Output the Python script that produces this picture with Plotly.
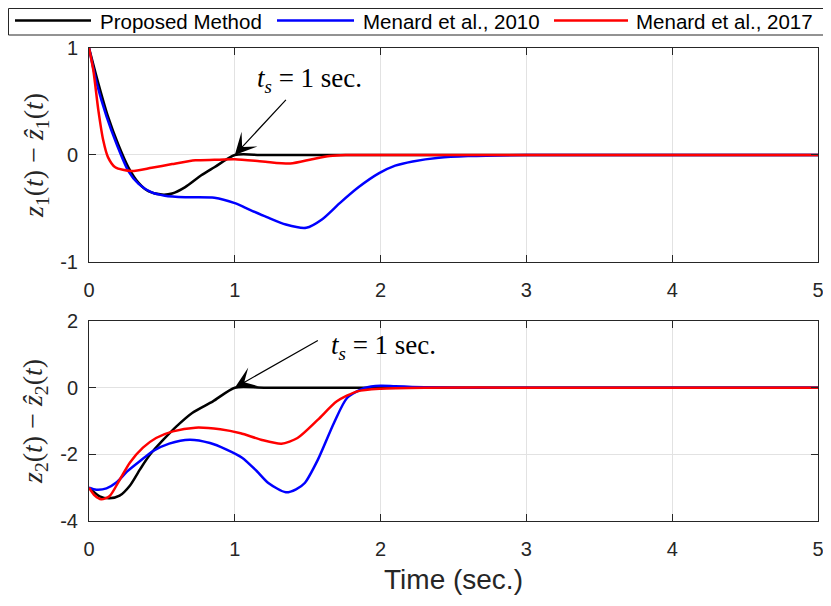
import plotly.graph_objects as go

# ---------------- data ----------------
series_names = ["Proposed Method", "Menard et al., 2010", "Menard et al., 2017"]
series_colors = ["#000000", "#0000ff", "#ff0000"]

# top panel: z1(t) - z1_hat(t)
t1_prop = [0, 0.064, 0.13, 0.2, 0.27, 0.34, 0.41, 0.5, 0.57, 0.66, 0.77, 0.86, 1.0, 1.2, 2.0, 3.0, 4.0, 5.0]
e1_prop = [1.0, 0.67, 0.36, 0.10, -0.115, -0.26, -0.34, -0.37, -0.36, -0.30, -0.19, -0.115, 0.0, 0.0, 0.0, 0.0, 0.0, 0.0]

t1_m10 = [0, 0.053, 0.12, 0.19, 0.27, 0.34, 0.43, 0.52, 0.66, 0.86, 1.0, 1.1, 1.22, 1.35, 1.49, 1.6, 1.72, 1.85, 1.99, 2.1, 2.22, 2.4, 2.6, 3.0, 4.0, 5.0]
e1_m10 = [1.0, 0.67, 0.36, 0.10, -0.15, -0.27, -0.35, -0.38, -0.395, -0.40, -0.45, -0.51, -0.58, -0.65, -0.68, -0.60, -0.45, -0.30, -0.17, -0.10, -0.06, -0.025, -0.01, 0.0, 0.0, 0.0]

t1_m17 = [0, 0.03, 0.064, 0.098, 0.13, 0.18, 0.29, 0.43, 0.57, 0.73, 0.86, 1.0, 1.19, 1.38, 1.53, 1.65, 1.76, 2.0, 3.0, 4.0, 5.0]
e1_m17 = [1.0, 0.79, 0.42, 0.135, -0.02, -0.115, -0.15, -0.12, -0.085, -0.05, -0.045, -0.04, -0.06, -0.08, -0.04, -0.01, 0.0, 0.0, 0.0, 0.0, 0.0]

# bottom panel: z2(t) - z2_hat(t)
t2_prop = [0, 0.073, 0.14, 0.21, 0.28, 0.35, 0.42, 0.51, 0.60, 0.71, 0.85, 1.0, 1.2, 2.0, 3.0, 4.0, 5.0]
e2_prop = [-3.0, -3.26, -3.32, -3.24, -2.94, -2.45, -2.0, -1.56, -1.16, -0.75, -0.41, 0.0, 0.0, 0.0, 0.0, 0.0, 0.0]

t2_m10 = [0, 0.05, 0.12, 0.19, 0.26, 0.35, 0.44, 0.55, 0.69, 0.83, 0.94, 1.05, 1.15, 1.23, 1.35, 1.42, 1.48, 1.57, 1.68, 1.77, 1.89, 2.0, 2.1, 2.3, 2.6, 3.0, 4.0, 5.0]
e2_m10 = [-3.0, -3.06, -3.02, -2.84, -2.52, -2.2, -1.9, -1.68, -1.56, -1.66, -1.85, -2.1, -2.5, -2.86, -3.14, -3.05, -2.86, -2.16, -1.06, -0.31, -0.01, 0.06, 0.04, 0.01, 0.0, 0.0, 0.0, 0.0]

t2_m17 = [0, 0.04, 0.084, 0.14, 0.21, 0.28, 0.37, 0.46, 0.575, 0.73, 0.9, 1.04, 1.18, 1.32, 1.43, 1.57, 1.70, 1.84, 2.0, 2.3, 3.0, 4.0, 5.0]
e2_m17 = [-3.0, -3.24, -3.35, -3.26, -2.77, -2.25, -1.8, -1.51, -1.31, -1.2, -1.25, -1.37, -1.56, -1.68, -1.51, -0.96, -0.41, -0.11, -0.03, 0.0, 0.0, 0.0, 0.0]

x_ticks = [0, 1, 2, 3, 4, 5]
x_ticklabels = ["0", "1", "2", "3", "4", "5"]
y1_ticks = [-1, 0, 1]
y1_ticklabels = ["-1", "0", "1"]
y2_ticks = [-4, -2, 0, 2]
y2_ticklabels = ["-4", "-2", "0", "2"]

y1_title = "<i>z</i><sub>1</sub>(<i>t</i>) − <i>ẑ</i><sub>1</sub>(<i>t</i>)"
y2_title = "<i>z</i><sub>2</sub>(<i>t</i>) − <i>ẑ</i><sub>2</sub>(<i>t</i>)"
x_title = "Time (sec.)"

# annotation: settling time point
ts_value = 1.0
ts_text = "<i>t</i><sub><i>s</i></sub> = 1 sec."

# ---------------- figure ----------------
AX = "#262626"
GRID = "#e2e2e2"
SANS = "Liberation Sans, Arial, sans-serif"
SERIF = "Liberation Serif, Times New Roman, serif"

fig = go.Figure()

top = [(t1_prop, e1_prop), (t1_m10, e1_m10), (t1_m17, e1_m17)]
bot = [(t2_prop, e2_prop), (t2_m10, e2_m10), (t2_m17, e2_m17)]

for i, (t, e) in enumerate(top):
    fig.add_trace(go.Scatter(x=t, y=e, mode="lines", name=series_names[i],
                             line=dict(color=series_colors[i], width=2.5, shape="spline", smoothing=0.7),
                             xaxis="x", yaxis="y", showlegend=False))
for i, (t, e) in enumerate(bot):
    fig.add_trace(go.Scatter(x=t, y=e, mode="lines", name=series_names[i],
                             line=dict(color=series_colors[i], width=2.5, shape="spline", smoothing=0.7),
                             xaxis="x2", yaxis="y2", showlegend=False))

common = dict(showline=True, linecolor=AX, linewidth=1, mirror="ticks",
              ticks="inside", ticklen=7, tickcolor=AX, tickwidth=1,
              showgrid=True, gridcolor=GRID, gridwidth=1, zeroline=False,
              tickfont=dict(family=SANS, size=20, color=AX))

# page has an 8px body margin: figure is placed at (8,8)
L, R, T, B = 81, 13, 40, 77
W, H = 823, 590
PW, PH = W - L - R, H - T - B


def px_x(fx):  # figure pixel -> paper x
    return (fx - L) / PW


def px_y(fy):  # figure pixel -> paper y
    return (H - B - fy) / PH


fig.update_layout(
    width=W, height=H,
    margin=dict(l=L, r=R, t=T, b=B, autoexpand=False),
    paper_bgcolor="white", plot_bgcolor="white",
    showlegend=False,
    xaxis=dict(domain=[0, 1], anchor="y", range=[0, 5], tickvals=x_ticks, ticktext=x_ticklabels,
               ticklabelstandoff=10, **common),
    yaxis=dict(domain=[0.5476, 1], anchor="x", range=[-1, 1], tickvals=y1_ticks, ticktext=y1_ticklabels,
               ticklabelstandoff=6, **common),
    xaxis2=dict(domain=[0, 1], anchor="y2", range=[0, 5], tickvals=x_ticks, ticktext=x_ticklabels,
                ticklabelstandoff=10,
                title=dict(text=x_title, font=dict(family=SANS, size=28, color=AX), standoff=10),
                **common),
    yaxis2=dict(domain=[0, 0.4228], anchor="x2", range=[-4, 2], tickvals=y2_ticks, ticktext=y2_ticklabels,
                ticklabelstandoff=6, **common),
)

# legend box (MATLAB-style, one row across the top)
fig.add_shape(type="rect", xref="paper", yref="paper", x0=px_x(0.5), x1=px_x(817), y0=px_y(0.5), y1=px_y(27),
              line=dict(color=AX, width=1), fillcolor="white", layer="above")
legend_line_x = [(7, 83), (269, 346), (546, 620)]
legend_text_x = [90, 353, 626]
LEG_Y = 12.5
for i in range(3):
    fig.add_shape(type="line", xref="paper", yref="paper",
                  x0=px_x(legend_line_x[i][0]), x1=px_x(legend_line_x[i][1]),
                  y0=px_y(LEG_Y), y1=px_y(LEG_Y), line=dict(color=series_colors[i], width=2.5), layer="above")
    fig.add_annotation(x=px_x(legend_text_x[i]), y=px_y(LEG_Y + 1), xref="paper", yref="paper",
                       text=series_names[i], showarrow=False, xanchor="left", yanchor="middle",
                       font=dict(family=SANS, size=20.5, color="#000000"))

# y-axis titles (rotated)
fig.add_annotation(x=px_x(27), y=px_y(148), xref="paper", yref="paper",
                   text=y1_title, textangle=-90, showarrow=False, xanchor="center", yanchor="middle",
                   font=dict(family=SERIF, size=28, color=AX))
fig.add_annotation(x=px_x(26), y=px_y(414), xref="paper", yref="paper",
                   text=y2_title, textangle=-90, showarrow=False, xanchor="center", yanchor="middle",
                   font=dict(family=SERIF, size=28, color=AX))

# arrows + texts
fig.add_annotation(x=ts_value, y=0, xref="x", yref="y", ax=1.36, ay=0.53, axref="x", ayref="y",
                   text="", showarrow=True, arrowhead=3, arrowsize=3, arrowwidth=1.2, arrowcolor="#000000",
                   standoff=0, startstandoff=0)
fig.add_annotation(x=1.51, y=0.70, xref="x", yref="y", text=ts_text, showarrow=False,
                   font=dict(family=SERIF, size=27, color="#000000"))
fig.add_annotation(x=ts_value, y=0, xref="x2", yref="y2", ax=1.58, ay=1.44, axref="x2", ayref="y2",
                   text="", showarrow=True, arrowhead=3, arrowsize=3, arrowwidth=1.2, arrowcolor="#000000",
                   standoff=0, startstandoff=0)
fig.add_annotation(x=2.02, y=1.23, xref="x2", yref="y2", text=ts_text, showarrow=False,
                   font=dict(family=SERIF, size=27, color="#000000"))

fig.write_html("out.html")
